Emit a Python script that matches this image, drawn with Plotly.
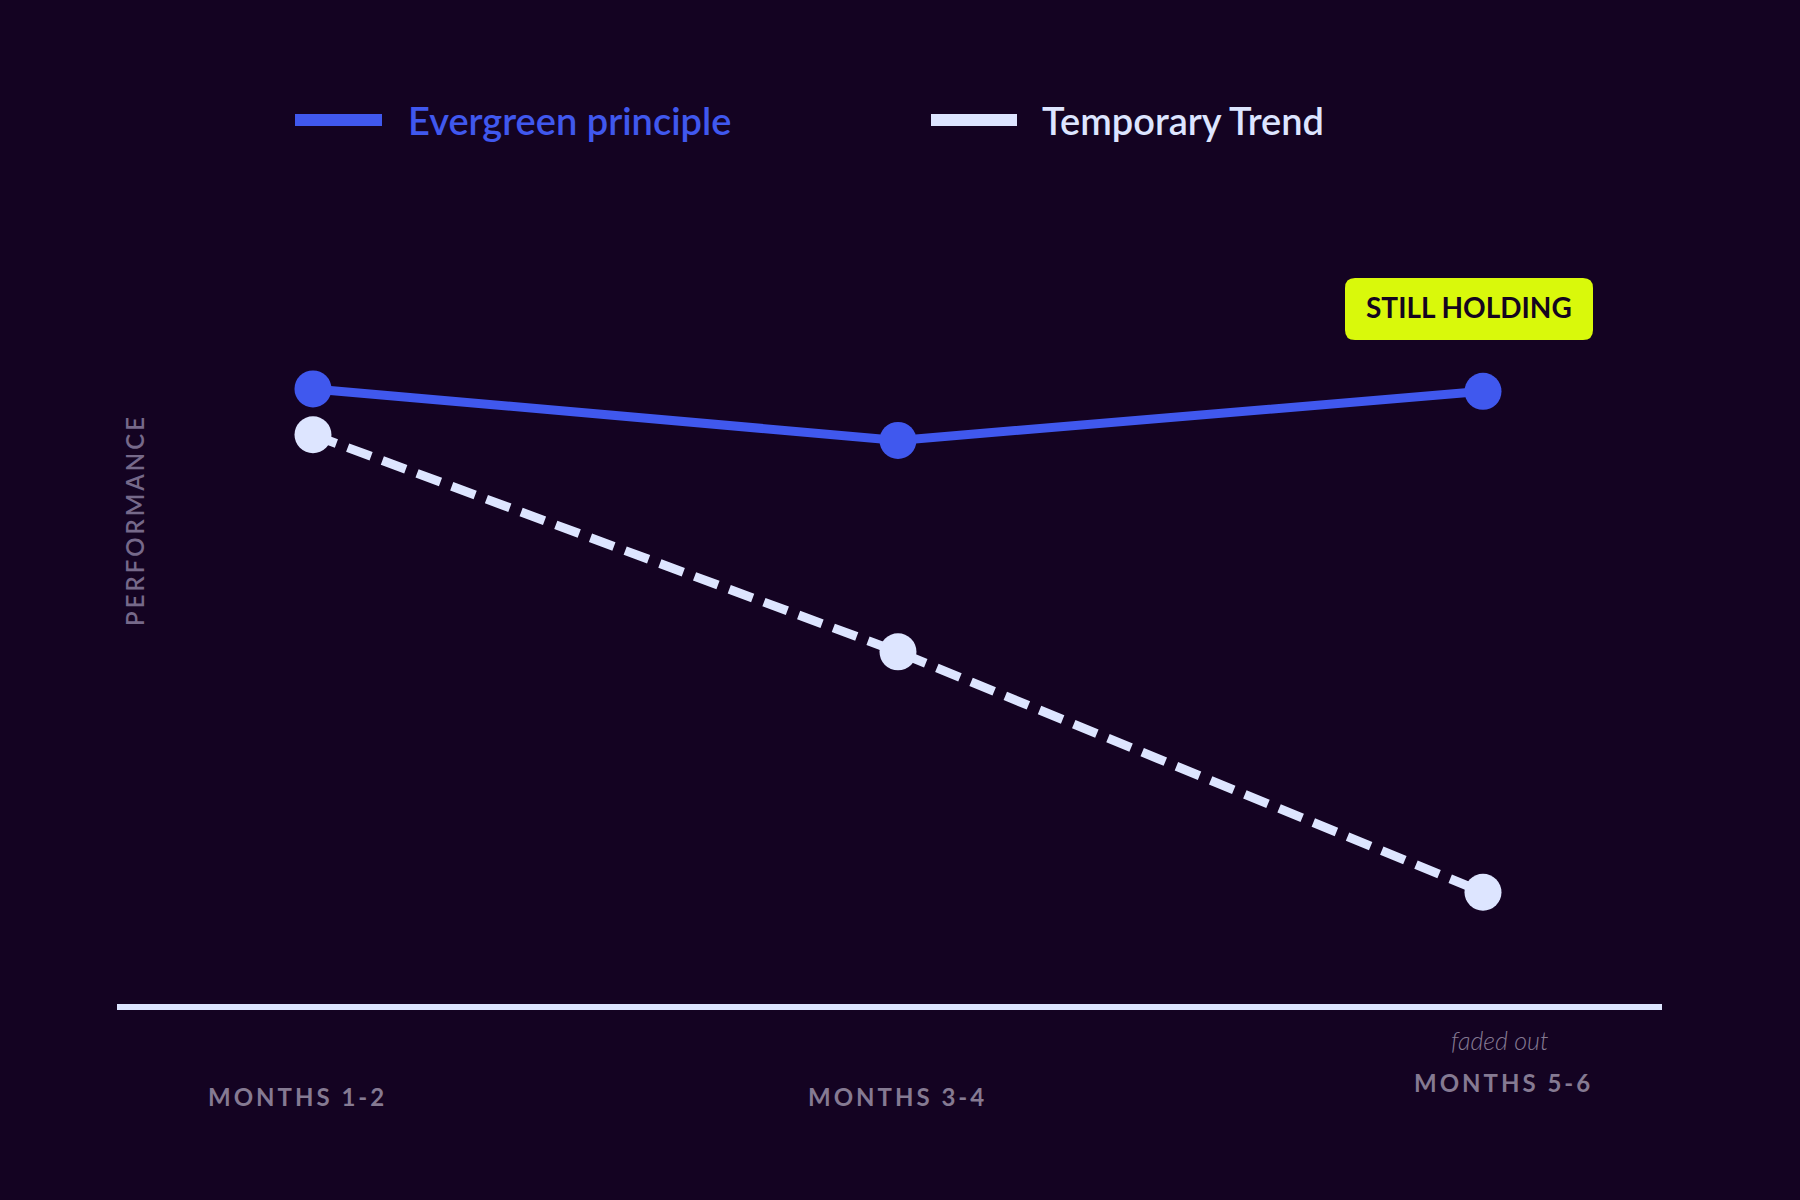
import plotly.graph_objects as go

# ---------------- data ----------------
periods = ["MONTHS 1-2", "MONTHS 3-4", "MONTHS 5-6"]
x_pos = [0, 1, 2]
evergreen = [76.5, 70.1, 76.2]
temporary = [70.8, 43.8, 13.9]
series_names = ["Evergreen principle", "Temporary Trend"]
badge_text = "STILL HOLDING"
note_text = "faded out"
y_title = "PERFORMANCE"

# ---------------- style ----------------
W, H = 1800, 1200
ML, MR, MT, MB = 117, 138, 200, 196
PW, PH = W - ML - MR, H - MT - MB
BG = "#140322"
BLUE = "#4058ee"
LIGHT = "#dde5ff"
GREY = "#857a92"
LIME = "#d9f90b"
FONT = "Lato, 'Liberation Sans', sans-serif"
THIN = "\u2009"


def px2x(px):
    return (px - ML) / PW


def px2y(py):
    return (H - MB - py) / PH


def spaced(s):
    return THIN.join(list(s))


fig = go.Figure()
fig.add_trace(go.Scatter(
    x=x_pos, y=evergreen, name=series_names[0], mode="lines+markers",
    line=dict(color=BLUE, width=9),
    marker=dict(color=BLUE, size=37, line=dict(width=0)),
    showlegend=False,
))
fig.add_trace(go.Scatter(
    x=x_pos, y=temporary, name=series_names[1], mode="lines+markers",
    line=dict(color=LIGHT, width=9, dash="25px,12px"),
    marker=dict(color=LIGHT, size=37, line=dict(width=0)),
    showlegend=False,
))

shapes = []
annotations = []

# manual legend
legend_items = [
    (series_names[0], BLUE, 295, 382, 406),
    (series_names[1], LIGHT, 931, 1017, 1040),
]
for name, col, x0, x1, tx in legend_items:
    shapes.append(dict(type="rect", xref="paper", yref="paper",
                       x0=px2x(x0), x1=px2x(x1), y0=px2y(126), y1=px2y(114),
                       fillcolor=col, line=dict(width=0), layer="above"))
    annotations.append(dict(text=name, xref="paper", yref="paper",
                            x=px2x(tx), y=px2y(120), xanchor="left", yanchor="middle",
                            showarrow=False,
                            font=dict(family=FONT, size=38, color=col, weight=600)))

# badge with rounded corners
bx0, bx1, by0, by1, r = 1345, 1593, 278, 340, 10
rx, ry = r / PW, r / PH
X0, X1, Y0, Y1 = px2x(bx0), px2x(bx1), px2y(by1), px2y(by0)
path = (f"M {X0+rx},{Y0} L {X1-rx},{Y0} Q {X1},{Y0} {X1},{Y0+ry} "
        f"L {X1},{Y1-ry} Q {X1},{Y1} {X1-rx},{Y1} "
        f"L {X0+rx},{Y1} Q {X0},{Y1} {X0},{Y1-ry} "
        f"L {X0},{Y0+ry} Q {X0},{Y0} {X0+rx},{Y0} Z")
shapes.append(dict(type="path", xref="paper", yref="paper", path=path,
                   fillcolor=LIME, line=dict(width=0), layer="above"))
annotations.append(dict(text=badge_text, xref="paper", yref="paper",
                        x=px2x(1469), y=px2y(307), xanchor="center", yanchor="middle",
                        showarrow=False,
                        font=dict(family=FONT, size=28, color="#14051f", weight=700)))

# x category labels
label_shift = [-17, -2, 19]
label_py = [1096, 1096, 1082]
for xp, lab, sh, py in zip(x_pos, periods, label_shift, label_py):
    annotations.append(dict(text=spaced(lab), xref="x", yref="paper",
                            x=xp, y=px2y(py), xshift=sh, xanchor="center", yanchor="middle",
                            showarrow=False,
                            font=dict(family=FONT, size=24, color=GREY, weight=700)))
annotations.append(dict(text=f"<i>{note_text}</i>", xref="x", yref="paper",
                        x=x_pos[2], y=px2y(1040), xshift=17, xanchor="center", yanchor="middle",
                        showarrow=False,
                        font=dict(family=FONT, size=25, color=GREY, weight=300)))

# y title
annotations.append(dict(text=spaced(y_title), xref="paper", yref="paper",
                        x=px2x(134), y=px2y(522), xanchor="center", yanchor="middle",
                        textangle=-90, showarrow=False,
                        font=dict(family=FONT, size=24, color="#76698a", weight=600)))

fig.update_layout(
    width=W, height=H,
    margin=dict(l=ML, r=MR, t=MT, b=MB, pad=0),
    paper_bgcolor=BG, plot_bgcolor=BG,
    shapes=shapes, annotations=annotations,
    xaxis=dict(range=[-0.335, 2.306], showline=True, linecolor=LIGHT, linewidth=6,
               showgrid=False, zeroline=False, showticklabels=False, ticks=""),
    yaxis=dict(range=[0, 100], showline=False, showgrid=False, zeroline=False,
               showticklabels=False, ticks=""),
    font=dict(family=FONT),
    hovermode=False,
)

fig.write_html("out.html")
